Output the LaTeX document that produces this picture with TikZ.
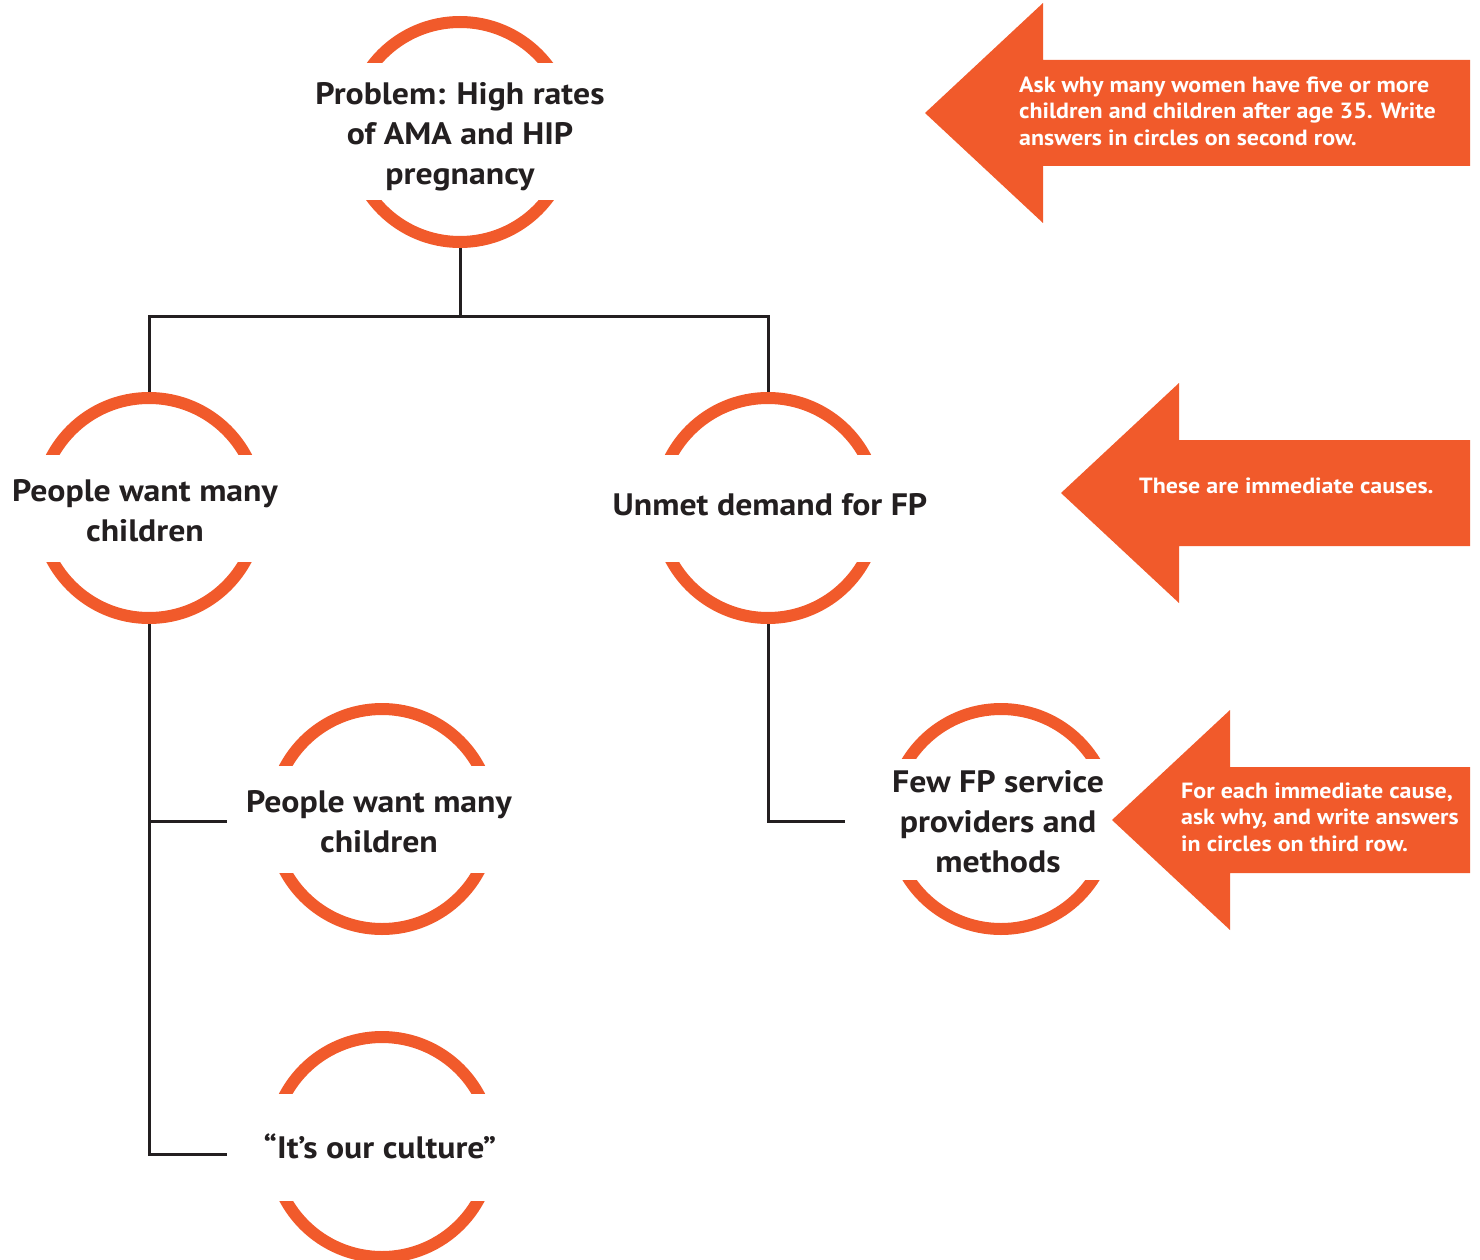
\documentclass[tikz,border=0pt]{standalone}
\usepackage{fontspec}
\setmainfont{PT Sans}[FakeStretch=1.09]
\usetikzlibrary{calc}
\definecolor{fporange}{RGB}{241,90,43}
\definecolor{ink}{RGB}{35,31,32}

% Orange ring cut open by a horizontal band of half-height #2 around node #1
\newcommand\openring[2]{%
  \begin{scope}
    \clip (#1.center) ++(-130,-130) rectangle ++(260,{130-#2});
    \draw[ring] (#1.center) circle[radius=110];
  \end{scope}
  \begin{scope}
    \clip (#1.center) ++(-130,#2) rectangle ++(260,{130-#2});
    \draw[ring] (#1.center) circle[radius=110];
  \end{scope}}

% Left-pointing block arrow with its tip at (#1,#2)
\newcommand\bannerarrow[2]{%
  \fill[banner] (#1,#2) -- ++(118,-110) -- ++(0,57) -- (1470,{#2-53})
    -- (1470,{#2+53}) -- ({#1+118},{#2+53}) -- ++(0,57) -- cycle;}

\begin{document}
\begin{tikzpicture}[x=1pt,y=-1pt,
  ringnode/.style={circle, minimum size=232pt, inner sep=0pt},
  ringtext/.style={align=center, inner sep=0pt, text=ink,
    font=\bfseries\fontsize{31}{40}\selectfont},
  ring/.style={draw=fporange, line width=12pt},
  link/.style={draw=ink, line width=3pt},
  banner/.style={fill=fporange},
  bannertext/.style={align=left, inner sep=0pt, anchor=west, text=white,
    font=\bfseries\fontsize{22}{26.5}\selectfont}]
\useasboundingbox (0,0) rectangle (1480,1260);

% ring placeholders
\node[ringnode] (top) at (460,132) {};
\node[ringnode] (pc)  at (149,508) {};
\node[ringnode] (un)  at (768,508) {};
\node[ringnode] (pc2) at (382,819) {};
\node[ringnode] (cu)  at (382,1147) {};
\node[ringnode] (fp)  at (1001,819) {};

\openring{top}{69}
\openring{pc}{54}
\openring{un}{54}
\openring{pc2}{54}
\openring{cu}{54}
\openring{fp}{61}

% labels inside the rings
\node[ringtext, yshift=-5pt] (toptext) at (top) {Problem: High rates\\of AMA and HIP\\pregnancy};
\node[ringtext, xshift=-4pt, yshift=-3pt] (pctext) at (pc) {People want many\\children};
\node[ringtext, xshift=2pt, yshift=3pt] (untext) at (un) {Unmet demand for FP};
\node[ringtext, xshift=-3pt, yshift=-3pt] (pc2text) at (pc2) {People want many\\children};
\node[ringtext, xshift=-2pt, yshift=1pt] (cutext) at (cu) {``It’s our culture''};
\node[ringtext, xshift=-3pt, yshift=-3pt] (fptext) at (fp) {Few FP service\\providers and\\methods};

% tree connectors
\draw[link] (top.south) -- ++(0,68) coordinate (split);
\draw[link] (pc.north) |- (split) -| (un.north);
\coordinate (b1) at (227,821);
\coordinate (b2) at (227,1154);
\coordinate (b3) at (845,821);
\draw[link] (pc.south) |- (b2);
\draw[link] (pc.south |- b1) -- (b1);
\draw[link] (un.south) |- (b3);

% instruction arrows
\bannerarrow{925}{113}
\bannerarrow{1061}{493}
\bannerarrow{1112}{820}
\node[bannertext] (note1) at (1019,111) {Ask why many women have five or more\\children and children after age 35. Write\\answers in circles on second row.};
\node[bannertext] (note2) at (1139,486) {These are immediate causes.};
\node[bannertext] (note3) at (1181,817) {For each immediate cause,\\ask why, and write answers\\in circles on third row.};
\end{tikzpicture}
\end{document}
